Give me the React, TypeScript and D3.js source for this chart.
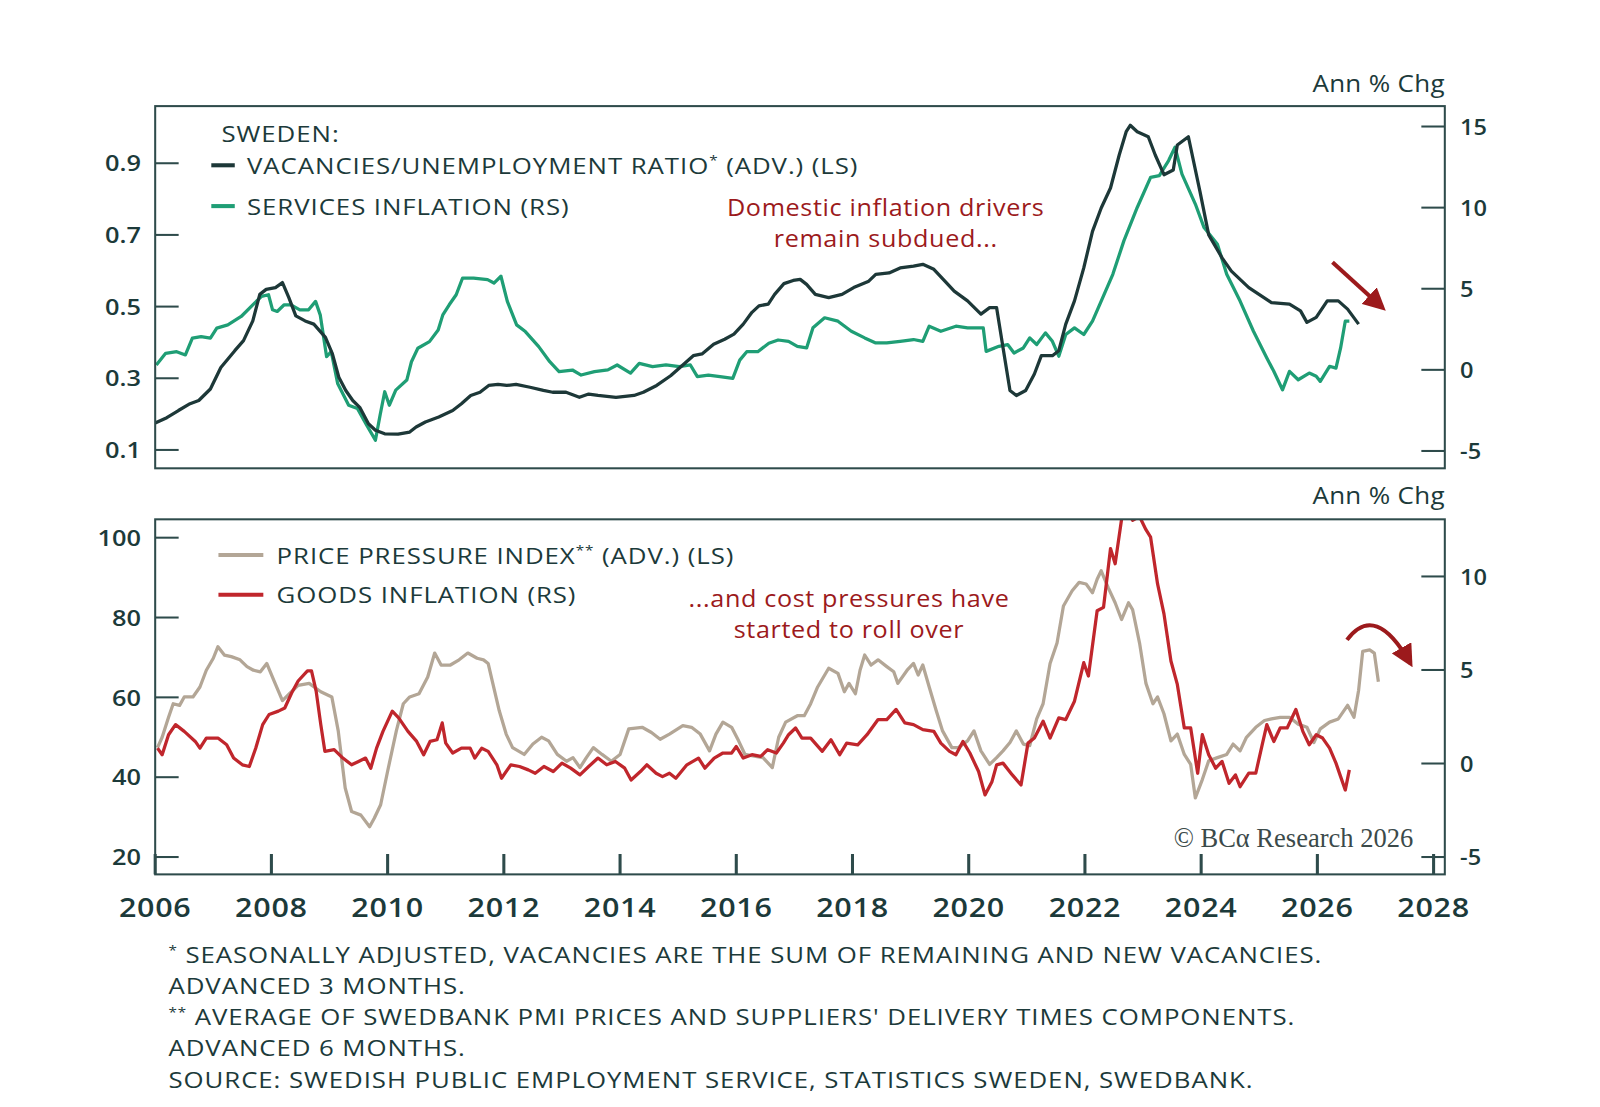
import React from 'react';
import * as d3 from 'd3';

// ---------- DATA ----------
const vuYears = [2006.0,2006.2,2006.4,2006.6,2006.75,2006.95,2007.13,2007.37,2007.52,2007.68,2007.8,2007.91,2008.07,2008.19,2008.3,2008.42,2008.58,2008.73,2008.93,2009.05,2009.16,2009.28,2009.4,2009.52,2009.67,2009.79,2009.95,2010.18,2010.38,2010.49,2010.65,2010.88,2011.12,2011.27,2011.43,2011.59,2011.74,2011.9,2012.05,2012.21,2012.45,2012.68,2012.84,2013.07,2013.3,2013.46,2013.62,2013.93,2014.24,2014.4,2014.63,2014.87,2015.1,2015.26,2015.41,2015.61,2015.8,2015.96,2016.12,2016.27,2016.39,2016.55,2016.66,2016.82,2016.98,2017.1,2017.21,2017.36,2017.59,2017.82,2018.02,2018.28,2018.4,2018.63,2018.82,2019.05,2019.21,2019.4,2019.59,2019.75,2019.98,2020.21,2020.36,2020.48,2020.59,2020.71,2020.82,2020.98,2021.13,2021.25,2021.44,2021.55,2021.67,2021.82,2021.98,2022.13,2022.28,2022.44,2022.59,2022.71,2022.78,2022.9,2023.09,2023.21,2023.36,2023.52,2023.59,2023.78,2023.98,2024.13,2024.36,2024.52,2024.82,2025.21,2025.52,2025.71,2025.82,2025.98,2026.17,2026.36,2026.52,2026.71];
const vuValues = [0.175,0.19,0.21,0.229,0.238,0.27,0.33,0.377,0.405,0.46,0.534,0.548,0.553,0.567,0.525,0.474,0.46,0.451,0.414,0.368,0.303,0.266,0.238,0.219,0.173,0.155,0.145,0.144,0.15,0.164,0.178,0.192,0.21,0.229,0.252,0.261,0.28,0.283,0.28,0.283,0.275,0.266,0.261,0.261,0.247,0.256,0.252,0.247,0.252,0.261,0.28,0.307,0.34,0.363,0.368,0.395,0.409,0.423,0.451,0.484,0.502,0.507,0.534,0.564,0.573,0.576,0.562,0.534,0.525,0.534,0.553,0.571,0.59,0.594,0.608,0.613,0.618,0.604,0.571,0.543,0.516,0.479,0.497,0.497,0.386,0.266,0.252,0.266,0.312,0.363,0.363,0.377,0.451,0.516,0.608,0.71,0.775,0.831,0.923,0.988,1.006,0.988,0.974,0.923,0.868,0.881,0.951,0.974,0.821,0.70,0.636,0.599,0.553,0.511,0.507,0.488,0.456,0.47,0.516,0.516,0.493,0.451];

const svcYears = [2006.02,2006.18,2006.37,2006.52,2006.64,2006.79,2006.95,2007.06,2007.25,2007.48,2007.68,2007.83,2007.95,2008.02,2008.1,2008.22,2008.33,2008.49,2008.64,2008.76,2008.84,2008.95,2009.03,2009.14,2009.33,2009.48,2009.64,2009.79,2009.87,2009.95,2010.03,2010.14,2010.33,2010.41,2010.52,2010.72,2010.87,2010.95,2011.06,2011.18,2011.29,2011.48,2011.72,2011.83,2011.95,2012.06,2012.22,2012.37,2012.6,2012.79,2012.95,2013.18,2013.33,2013.56,2013.79,2013.95,2014.18,2014.33,2014.56,2014.79,2015.02,2015.21,2015.33,2015.52,2015.72,2015.94,2016.06,2016.18,2016.37,2016.56,2016.72,2016.9,2017.05,2017.21,2017.32,2017.52,2017.75,2017.98,2018.21,2018.4,2018.59,2018.82,2019.05,2019.21,2019.32,2019.52,2019.78,2019.98,2020.25,2020.3,2020.52,2020.67,2020.78,2020.94,2021.05,2021.17,2021.32,2021.44,2021.55,2021.67,2021.82,2021.98,2022.13,2022.28,2022.48,2022.67,2022.9,2023.13,2023.28,2023.44,2023.55,2023.67,2023.9,2024.05,2024.28,2024.44,2024.67,2024.9,2025.13,2025.25,2025.4,2025.52,2025.67,2025.86,2025.98,2026.05,2026.21,2026.32,2026.4,2026.48,2026.55];
const svcValues = [0.3,1.02,1.12,0.92,1.95,2.05,1.95,2.57,2.77,3.29,4.01,4.53,4.63,3.7,3.6,4.01,4.01,3.7,3.7,4.22,3.39,0.81,1.12,-0.84,-2.18,-2.38,-3.41,-4.34,-2.8,-1.35,-2.18,-1.25,-0.63,0.5,1.33,1.74,2.46,3.39,4.01,4.63,5.66,5.66,5.56,5.35,5.77,4.22,2.77,2.36,1.43,0.5,-0.11,-0.01,-0.32,-0.11,0,0.3,-0.2,0.4,0.2,0.3,0.2,0.3,-0.42,-0.32,-0.42,-0.53,0.6,1.12,1.12,1.64,1.84,1.76,1.45,1.35,2.59,3.21,3.0,2.38,1.97,1.66,1.66,1.76,1.87,1.76,2.69,2.38,2.69,2.59,2.59,1.14,1.45,1.56,1.04,1.35,1.97,1.56,2.28,1.76,0.84,2.18,2.59,2.18,3.0,4.24,5.89,7.95,10.01,11.87,11.97,12.9,13.72,12.07,10.22,8.77,7.74,5.89,4.24,2.38,0.73,-0.09,-1.23,-0.09,-0.61,-0.2,-0.4,-0.71,0.22,0.11,1.35,3.0,3.0];

const ppiYears = [2006.04,2006.12,2006.23,2006.31,2006.42,2006.5,2006.65,2006.77,2006.88,2007.0,2007.08,2007.19,2007.31,2007.46,2007.58,2007.69,2007.81,2007.92,2008.04,2008.19,2008.31,2008.46,2008.65,2008.85,2009.04,2009.15,2009.27,2009.38,2009.54,2009.69,2009.77,2009.88,2010.0,2010.15,2010.27,2010.38,2010.54,2010.69,2010.81,2010.92,2011.08,2011.23,2011.38,2011.54,2011.65,2011.73,2011.81,2011.92,2012.04,2012.15,2012.35,2012.5,2012.65,2012.77,2012.92,2013.08,2013.19,2013.31,2013.42,2013.54,2013.69,2013.85,2014.0,2014.15,2014.38,2014.54,2014.69,2014.85,2015.08,2015.23,2015.38,2015.54,2015.65,2015.77,2015.92,2016.04,2016.15,2016.31,2016.46,2016.62,2016.73,2016.85,2017.05,2017.17,2017.28,2017.4,2017.59,2017.75,2017.86,2017.94,2018.05,2018.13,2018.21,2018.32,2018.44,2018.59,2018.71,2018.78,2018.94,2019.05,2019.13,2019.21,2019.32,2019.44,2019.55,2019.71,2019.82,2019.98,2020.09,2020.21,2020.36,2020.48,2020.59,2020.71,2020.82,2020.94,2021.05,2021.17,2021.28,2021.4,2021.52,2021.63,2021.78,2021.9,2022.02,2022.13,2022.21,2022.28,2022.4,2022.52,2022.63,2022.75,2022.82,2022.94,2023.05,2023.17,2023.25,2023.36,2023.48,2023.59,2023.71,2023.82,2023.9,2024.02,2024.13,2024.28,2024.44,2024.55,2024.67,2024.78,2024.94,2025.09,2025.21,2025.36,2025.52,2025.67,2025.82,2025.94,2026.05,2026.21,2026.36,2026.52,2026.63,2026.71,2026.78,2026.9,2026.98,2027.05];
const ppiValues = [47.4,50.0,55.0,58.4,58.0,60.1,60.1,62.6,66.8,69.8,72.7,70.6,70.2,69.4,67.7,66.8,66.4,68.5,64.3,59.2,60.9,63.0,63.5,61.4,60.1,51.6,37.3,31.4,30.5,27.6,29.7,33.1,41.5,51.6,58.4,60.1,60.9,65.1,71.1,68.1,68.1,69.4,71.1,69.8,69.4,68.5,63.5,56.7,50.8,47.4,45.7,48.3,50.0,49.1,45.7,44.0,44.9,42.4,44.9,47.4,45.7,44.0,45.7,52.1,52.5,51.2,49.5,50.8,52.9,52.5,50.8,46.6,50.8,53.8,52.5,49.1,45.7,45.3,44.9,42.4,50.0,53.8,55.4,55.4,58.4,62.6,67.3,66.0,61.4,63.5,60.9,66.8,70.6,68.1,69.4,67.7,66.4,63.5,66.8,68.5,65.6,68.1,62.6,56.7,51.6,47.4,47.4,49.1,51.6,46.6,43.2,44.9,46.6,48.7,51.6,48.3,47.9,54.6,58.4,68.5,73.6,82.9,86.7,88.8,88.4,86.2,89.6,91.7,87.5,83.7,79.5,83.7,82.0,73.6,63.5,58.4,60.1,55.9,49.1,50.8,45.7,43.2,34.8,39.4,44.1,44.9,45.7,48.3,46.6,50.0,52.5,54.2,54.6,55.0,55.0,53.3,52.5,48.7,52.1,53.8,54.6,58.0,55.0,61.8,71.5,71.9,71.1,63.9];

const goodsYears = [2006.04,2006.12,2006.23,2006.35,2006.5,2006.69,2006.77,2006.88,2007.08,2007.23,2007.35,2007.5,2007.62,2007.73,2007.85,2007.96,2008.12,2008.23,2008.35,2008.46,2008.62,2008.69,2008.77,2008.85,2008.92,2009.08,2009.23,2009.38,2009.5,2009.62,2009.71,2009.81,2009.92,2010.08,2010.19,2010.35,2010.5,2010.62,2010.73,2010.85,2010.94,2011.0,2011.12,2011.27,2011.42,2011.5,2011.62,2011.73,2011.88,2011.96,2012.12,2012.27,2012.42,2012.54,2012.69,2012.85,2013.0,2013.15,2013.31,2013.46,2013.62,2013.77,2013.92,2014.08,2014.19,2014.35,2014.46,2014.62,2014.73,2014.85,2014.96,2015.15,2015.35,2015.46,2015.62,2015.77,2015.92,2016.0,2016.12,2016.27,2016.42,2016.54,2016.69,2016.81,2016.9,2017.02,2017.13,2017.28,2017.48,2017.63,2017.78,2017.9,2018.09,2018.25,2018.44,2018.59,2018.75,2018.9,2019.05,2019.21,2019.4,2019.52,2019.67,2019.78,2019.9,2020.02,2020.17,2020.28,2020.4,2020.48,2020.59,2020.75,2020.9,2021.02,2021.13,2021.28,2021.4,2021.55,2021.67,2021.82,2021.98,2022.06,2022.21,2022.32,2022.44,2022.52,2022.63,2022.75,2022.82,2022.94,2023.05,2023.13,2023.25,2023.36,2023.48,2023.59,2023.71,2023.82,2023.94,2024.02,2024.13,2024.25,2024.36,2024.48,2024.59,2024.67,2024.82,2024.94,2025.05,2025.13,2025.25,2025.36,2025.48,2025.63,2025.75,2025.86,2025.98,2026.09,2026.21,2026.32,2026.4,2026.48,2026.55];
const goodsValues = [0.82,0.47,1.54,2.08,1.72,1.18,0.82,1.36,1.36,1.0,0.29,-0.07,-0.16,0.82,2.08,2.62,2.8,2.97,3.78,4.41,4.95,4.95,3.87,2.08,0.65,0.74,0.29,-0.07,0.11,0.29,-0.25,0.82,1.72,2.8,2.44,1.72,1.18,0.47,1.18,1.27,2.17,1.09,0.56,0.82,0.82,0.29,0.82,0.65,-0.07,-0.79,-0.07,-0.16,-0.34,-0.52,-0.16,-0.43,0.02,-0.25,-0.61,-0.16,0.29,-0.07,0.11,-0.25,-0.88,-0.43,-0.07,-0.52,-0.7,-0.52,-0.79,-0.07,0.29,-0.25,0.29,0.56,0.56,0.91,0.29,0.47,0.38,0.74,0.56,1.09,1.54,1.9,1.36,1.36,0.65,1.27,0.47,1.09,1.0,1.54,2.35,2.35,2.89,2.17,2.08,1.81,1.72,1.09,0.65,0.47,1.18,0.56,-0.43,-1.68,-0.97,-0.07,0.02,-0.61,-1.15,1.09,1.36,2.26,1.36,2.44,2.35,3.33,5.39,4.68,8.17,8.35,11.49,10.68,13.05,13.4,13.0,13.2,12.5,12.1,9.6,8.0,5.48,4.23,1.9,1.9,-0.52,1.54,0.47,-0.25,0.11,-1.06,-0.61,-1.24,-0.52,-0.52,1.0,2.08,1.18,1.9,1.9,2.89,1.72,1.0,1.54,1.36,0.82,0.02,-0.7,-1.42,-0.34];

const xTickYears = [2006,2008,2010,2012,2014,2016,2018,2020,2022,2024,2026,2028];
const topLeftTicks = [0.1,0.3,0.5,0.7,0.9];
const topRightTicks = [-5,0,5,10,15];
const botLeftTicks = [20,40,60,80,100];
const botRightTicks = [-5,0,5,10];

const footnotes = [
  ['*', ' SEASONALLY ADJUSTED, VACANCIES ARE THE SUM OF REMAINING AND NEW VACANCIES.'],
  ['', 'ADVANCED 3 MONTHS.'],
  ['**', ' AVERAGE OF SWEDBANK PMI PRICES AND SUPPLIERS\' DELIVERY TIMES COMPONENTS.'],
  ['', 'ADVANCED 6 MONTHS.'],
  ['', 'SOURCE: SWEDISH PUBLIC EMPLOYMENT SERVICE, STATISTICS SWEDEN, SWEDBANK.'],
];

// ---------- STYLE ----------
const INK = '#1c3a3a';
const FRAME = '#2e4b4b';
const C_VU = '#1d3838';
const C_SVC = '#1f9e75';
const C_PPI = '#b3a696';
const C_GOODS = '#c0262c';
const C_ANN = '#9c1a1c';
const FONT = '"Open Sans", Lato, sans-serif';
const CAPS_SX = 1.15;   // horizontal stretch mimicking the wide original typeface
const CAPS_LS = 0.8;

// layout (drawn in a 1568x1085 viewBox, scaled to 1600x1107)
const L = 152, R = 1416;
const T1 = 104, B1 = 459;
const T2 = 509, B2 = 857;

const x = d3.scaleLinear().domain([2006, 2028]).range([152, 1405]);
const yTL = d3.scaleLinear().domain([0.1, 0.9]).range([441, 160]);
const yTR = d3.scaleLinear().domain([-5, 15]).range([442, 124]);
const yBL = d3.scaleLinear().domain([20, 100]).range([840, 527]);
const yBR = d3.scaleLinear().domain([-5, 10]).range([840, 565]);

function path(years: number[], vals: number[], ys: d3.ScaleLinear<number, number>) {
  const pts = years.map((yr, i) => [yr, vals[i]] as [number, number]);
  return d3.line<[number, number]>().x(d => x(d[0])).y(d => ys(d[1])).curve(d3.curveLinear)(pts) || '';
}

type STextProps = {
  x: number; y: number; sx?: number; anchor?: 'start' | 'middle' | 'end';
  size: number; fill?: string; weight?: number; ls?: number; family?: string; children?: React.ReactNode;
};
function SText({ x: tx, y: ty, sx = 1, anchor = 'start', size, fill = INK, weight, ls = 0, family, children }: STextProps) {
  return (
    <text transform={`translate(${tx},${ty}) scale(${sx},1)`} x={0} y={0} textAnchor={anchor}
      fontSize={size} fill={fill} fontWeight={weight} letterSpacing={ls} fontFamily={family}>
      {children}
    </text>
  );
}

export default function App() {
  const tickLen = 23;
  return (
    <svg width={1600} height={1107} viewBox="0 0 1568 1085"
      style={{ position: 'absolute', left: 0, top: 0, background: '#fff' }}
      fontFamily={FONT}>
      <defs>
        <clipPath id="clipTop"><rect x={L} y={T1} width={R - L} height={B1 - T1} /></clipPath>
        <clipPath id="clipBot"><rect x={L} y={T2} width={R - L} height={B2 - T2} /></clipPath>
        <marker id="ahead" viewBox="0 0 10 10" refX="8" refY="5" markerWidth="5.5" markerHeight="5.5" orient="auto" markerUnits="strokeWidth">
          <path d="M0,0 L10,5 L0,10 Z" fill={C_ANN} />
        </marker>
      </defs>
      <rect x={0} y={0} width={1568} height={1085} fill="#fff" />

      {/* ---------- TOP PANEL ---------- */}
      <SText x={R} y={90} anchor="end" size={24} sx={1.06} ls={0.3}>Ann % Chg</SText>
      <g clipPath="url(#clipTop)">
        <path d={path(svcYears, svcValues, yTR)} fill="none" stroke={C_SVC} strokeWidth={3.2} strokeLinejoin="round" />
        <path d={path(vuYears, vuValues, yTL)} fill="none" stroke={C_VU} strokeWidth={3.2} strokeLinejoin="round" />
      </g>
      <rect x={L} y={T1} width={R - L} height={B1 - T1} fill="none" stroke={FRAME} strokeWidth={2} />
      {topLeftTicks.map(t => (
        <g key={'tl' + t}>
          <line x1={L} x2={L + tickLen} y1={yTL(t)} y2={yTL(t)} stroke={FRAME} strokeWidth={2} />
          <SText x={138} y={yTL(t) + 8} anchor="end" size={22} weight={600} sx={1.13}>{t.toFixed(1)}</SText>
        </g>
      ))}
      {topRightTicks.map(t => (
        <g key={'tr' + t}>
          <line x1={R - tickLen} x2={R} y1={yTR(t)} y2={yTR(t)} stroke={FRAME} strokeWidth={2} />
          <SText x={1431} y={yTR(t) + 8} size={22} weight={600} sx={1.05}>{t}</SText>
        </g>
      ))}
      {/* legend */}
      <SText x={217} y={139} size={22} sx={CAPS_SX} ls={CAPS_LS}>SWEDEN:</SText>
      <line x1={207} x2={230} y1={162} y2={162} stroke={C_VU} strokeWidth={4} />
      <SText x={242} y={170.5} size={22} sx={CAPS_SX} ls={CAPS_LS}>VACANCIES/UNEMPLOYMENT RATIO<tspan fontSize={13} dy={-9}>*</tspan><tspan dy={9}> (ADV.) (LS)</tspan></SText>
      <line x1={207} x2={230} y1={202} y2={202} stroke={C_SVC} strokeWidth={4} />
      <SText x={242} y={210.5} size={22} sx={CAPS_SX} ls={CAPS_LS}>SERVICES INFLATION (RS)</SText>
      {/* annotation */}
      <SText x={868} y={212} anchor="middle" size={23.5} sx={1.05} ls={0.6} fill={C_ANN}>Domestic inflation drivers</SText>
      <SText x={868} y={242} anchor="middle" size={23.5} sx={1.05} ls={0.6} fill={C_ANN}>remain subdued...</SText>
      <line x1={x(2026.26)} y1={yTL(0.624)} x2={x(2027.12)} y2={yTL(0.497)} stroke={C_ANN} strokeWidth={4} markerEnd="url(#ahead)" />

      {/* ---------- BOTTOM PANEL ---------- */}
      <SText x={R} y={494} anchor="end" size={24} sx={1.06} ls={0.3}>Ann % Chg</SText>
      <g clipPath="url(#clipBot)">
        <path d={path(ppiYears, ppiValues, yBL)} fill="none" stroke={C_PPI} strokeWidth={3.2} strokeLinejoin="round" />
        <path d={path(goodsYears, goodsValues, yBR)} fill="none" stroke={C_GOODS} strokeWidth={3.2} strokeLinejoin="round" />
      </g>
      <rect x={L} y={T2} width={R - L} height={B2 - T2} fill="none" stroke={FRAME} strokeWidth={2} />
      {botLeftTicks.map(t => (
        <g key={'bl' + t}>
          <line x1={L} x2={L + tickLen} y1={yBL(t)} y2={yBL(t)} stroke={FRAME} strokeWidth={2} />
          <SText x={138} y={yBL(t) + 8} anchor="end" size={22} weight={600} sx={1.13}>{t}</SText>
        </g>
      ))}
      {botRightTicks.map(t => (
        <g key={'br' + t}>
          <line x1={R - tickLen} x2={R} y1={yBR(t)} y2={yBR(t)} stroke={FRAME} strokeWidth={2} />
          <SText x={1431} y={yBR(t) + 8} size={22} weight={600} sx={1.05}>{t}</SText>
        </g>
      ))}
      {xTickYears.map(yr => (
        <g key={'x' + yr}>
          <line x1={x(yr)} x2={x(yr)} y1={B2} y2={B2 - 20} stroke={FRAME} strokeWidth={3} />
          <SText x={x(yr)} y={899} anchor="middle" size={26} weight={600} sx={1.15} ls={0.6}>{yr}</SText>
        </g>
      ))}
      {/* legend */}
      <line x1={214} x2={258} y1={544} y2={544} stroke={C_PPI} strokeWidth={4} />
      <SText x={271} y={552.5} size={22} sx={CAPS_SX} ls={CAPS_LS}>PRICE PRESSURE INDEX<tspan fontSize={13} dy={-9}>**</tspan><tspan dy={9}> (ADV.) (LS)</tspan></SText>
      <line x1={214} x2={258} y1={583} y2={583} stroke={C_GOODS} strokeWidth={4} />
      <SText x={271} y={591.5} size={22} sx={CAPS_SX} ls={CAPS_LS}>GOODS INFLATION (RS)</SText>
      {/* annotation */}
      <SText x={832} y={595} anchor="middle" size={23.5} sx={1.05} ls={0.6} fill={C_ANN}>...and cost pressures have</SText>
      <SText x={832} y={625} anchor="middle" size={23.5} sx={1.05} ls={0.6} fill={C_ANN}>started to roll over</SText>
      <path d={`M${x(2026.51)},${yBL(74.4)} Q${x(2027.0)},${yBL(84)} ${x(2027.6)},${yBL(68.5)}`}
        fill="none" stroke={C_ANN} strokeWidth={4} markerEnd="url(#ahead)" />
      <SText x={1385} y={830} anchor="end" size={26} family='"Liberation Serif", "DejaVu Serif", serif' fill="#3b4a4a">© BCα Research 2026</SText>

      {/* ---------- FOOTNOTES ---------- */}
      {footnotes.map((f, i) => (
        <SText key={'fn' + i} x={165} y={944 + i * 30.5} size={22} sx={CAPS_SX} ls={CAPS_LS}>
          {f[0] ? <tspan fontSize={13} dy={-8}>{f[0]}</tspan> : null}
          {f[0] ? <tspan dy={8}>{f[1]}</tspan> : f[1]}
        </SText>
      ))}
    </svg>
  );
}
